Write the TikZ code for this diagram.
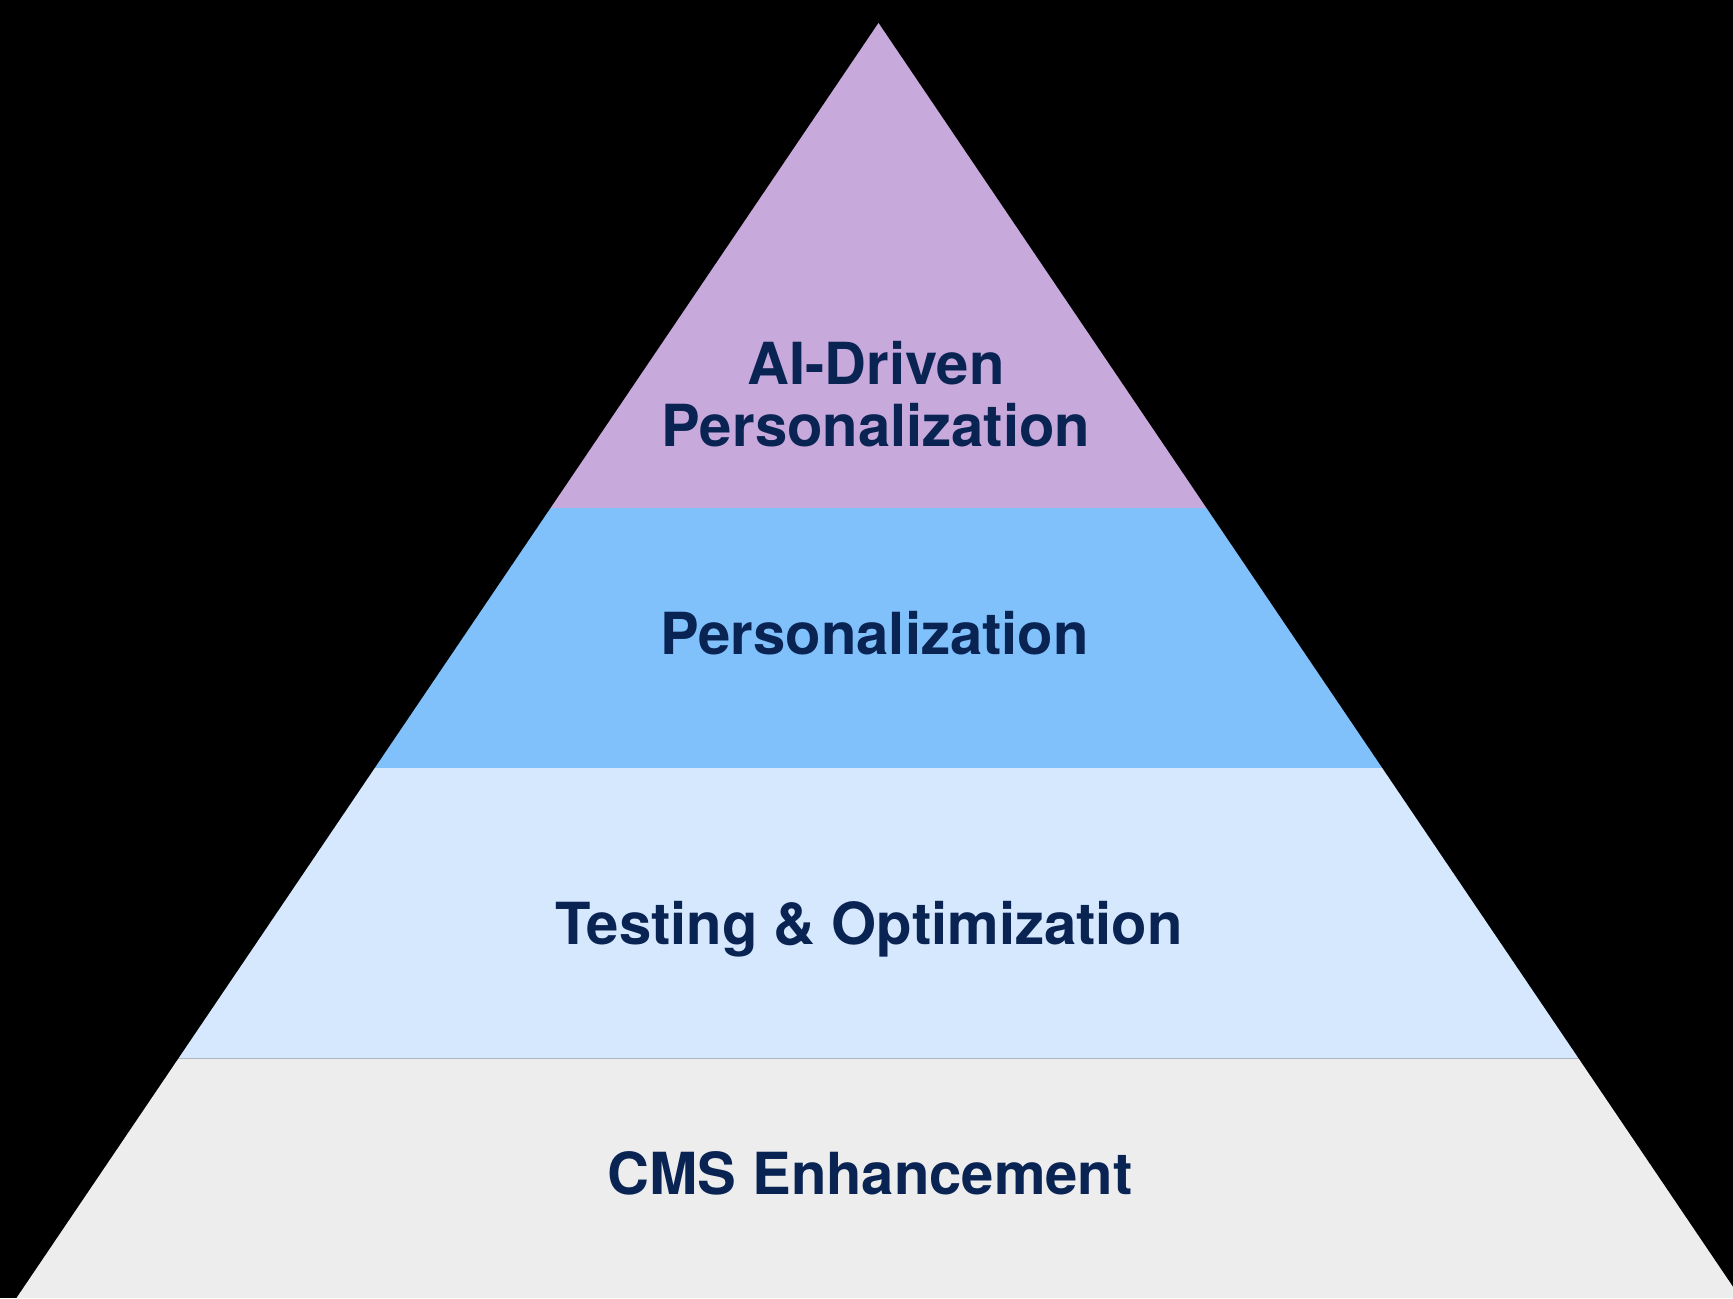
\documentclass[tikz,border=0pt]{standalone}
\usepackage{fontspec}
\setmainfont{TeX Gyre Heros}
\usepackage{tikz}
\usetikzlibrary{calc,positioning}
\definecolor{topband}{HTML}{C8A9DC}
\definecolor{midband}{HTML}{80C1FC}
\definecolor{lowband}{HTML}{D6E8FD}
\definecolor{baseband}{HTML}{EDEDED}
\definecolor{labeltext}{HTML}{092352}

\begin{document}
\begin{tikzpicture}[x=0.5pt,y=-0.5pt,
	every node/.style={text=labeltext,font=\fontsize{29}{31}\selectfont\bfseries,inner sep=0pt},
	tier/.style={align=center}]
	\fill[black] (0,0) rectangle (1733,1298);
	\useasboundingbox (0,0) rectangle (1733,1298);
	\clip (0,0) rectangle (1733,1298);

	\coordinate (apex) at (878.5,23);
	\coordinate (bl) at (16.5,1298);
	\coordinate (br) at (1740.5,1298);
	\coordinate (l1) at ($(apex)!0.3804!(bl)$);
	\coordinate (r1) at ($(apex)!0.3804!(br)$);
	\coordinate (l2) at ($(apex)!0.5843!(bl)$);
	\coordinate (r2) at ($(apex)!0.5843!(br)$);
	\coordinate (l3) at ($(apex)!0.8123!(bl)$);
	\coordinate (r3) at ($(apex)!0.8123!(br)$);

	\fill[topband] (apex) -- (r1) -- (l1) -- cycle;
	\fill[midband] (l1) -- (r1) -- (r2) -- (l2) -- cycle;
	\fill[lowband] (l2) -- (r2) -- (r3) -- (l3) -- cycle;
	\fill[baseband] (l3) -- (r3) -- (br) -- (bl) -- cycle;

	\node[tier] (aiPers) at (876,394) {AI-Driven\\Personalization};
	\node[tier,anchor=base] (pers) at (874.5,654) {Personalization};
	\node[tier,anchor=base] (testOpt) at (869,944) {Testing \& Optimization};
	\node[tier,anchor=base] (cmsEnh) at (870,1194) {CMS Enhancement};
\end{tikzpicture}
\end{document}
